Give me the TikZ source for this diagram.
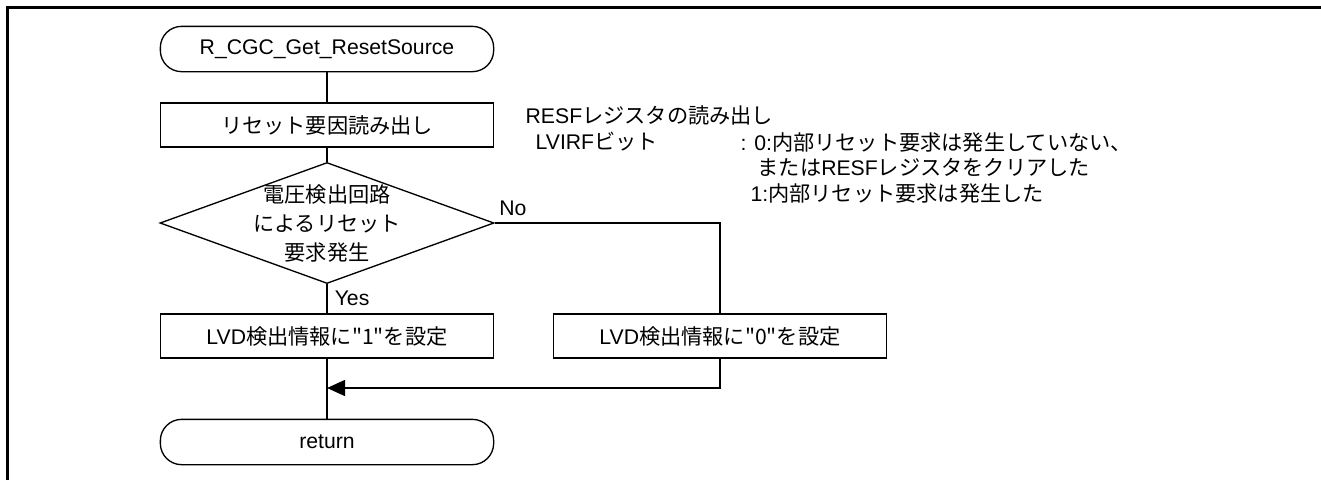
\documentclass[tikz,border=0pt]{standalone}
\usepackage{fontspec}
\setmainfont{Liberation Sans}
\newfontfamily\jp{Noto Sans CJK JP}
\usetikzlibrary{shapes.geometric,arrows.meta}

\begin{document}
\begin{tikzpicture}[x=0.75pt,y=-0.75pt,
        font=\fontsize{15.9}{21.75}\selectfont,
        every path/.style={line width=1pt},
        terminal/.style={draw, rounded corners=16pt, minimum width=250pt, minimum height=34pt},
        process/.style={draw, minimum width=250pt, minimum height=33pt},
        decision/.style={draw, diamond, aspect=2.76, inner xsep=-10.5pt, inner ysep=0pt, align=center,
            minimum width=248pt, minimum height=90pt},
        note/.style={anchor=west, inner sep=0pt}]
        \useasboundingbox (0,0) rectangle (1321,480);
        \draw[line width=2.25pt] (7.5,480) -- (7.5,7.5) -- (1321,7.5);
        % flow
        \node[terminal] (start) at (327,49) {R\_CGC\_Get\_ResetSource};
        \node[process] (read) at (327,125) {{\jp リセット要因読み出し}};
        \node[decision] (lvd) at (327,223) {{\jp 電圧検出回路}\\{\jp によるリセット}\\{\jp 要求発生}};
        \node[process] (setone) at (327,336) {LVD{\jp 検出情報に"1"を設定}};
        \node[process] (setzero) at (720,336) {LVD{\jp 検出情報に"0"を設定}};
        \node[terminal] (ret) at (327,442) {return};
        \coordinate (merge) at (327,388);
        \draw (start) -- (read);
        \draw (read) -- (lvd);
        \draw (lvd.south) -- (setone.north) node[midway, right=2pt] {Yes};
        \draw (lvd.east) node[anchor=south west, inner sep=3pt, yshift=2pt] {No} -| (setzero.north);
        \draw (setone) -- (ret);
        \draw[-{Triangle[length=13.5pt,width=12pt]}] (setzero.south) |- (merge);
        % notes
        \node[note] (resf) at (525,115) {RESF{\jp レジスタの読み出し}};
        \node[note] (lvirf) at (535,142) {LVIRF{\jp ビット}};
        \node[note] (bit0) at (740,142) {: 0:{\jp 内部リセット要求は発生していない、}};
        \node[note] (bit0b) at (757,167) {{\jp または}RESF{\jp レジスタをクリアした}};
        \node[note] (bit1) at (750,193) {1:{\jp 内部リセット要求は発生した}};
    \end{tikzpicture}
\end{document}
